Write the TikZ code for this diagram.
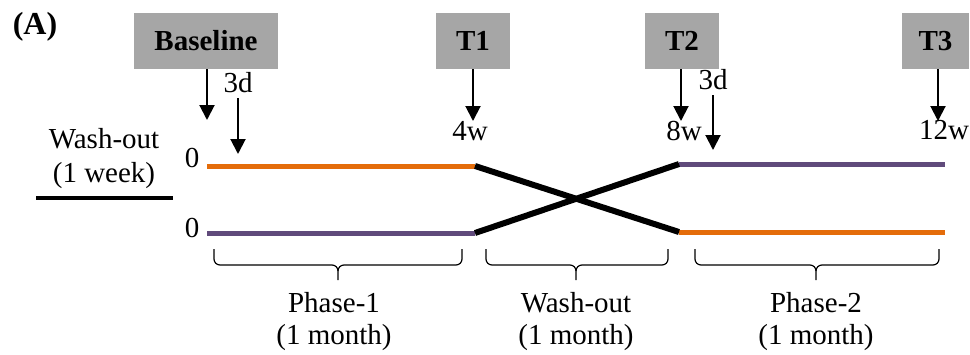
\documentclass[tikz,border=0pt]{standalone}
\usepackage{fontspec}
\setmainfont{Liberation Serif}
\usetikzlibrary{arrows.meta}
\definecolor{orng}{HTML}{E46C0A}
\definecolor{purp}{HTML}{604A7B}
\definecolor{boxgray}{HTML}{A6A6A6}
\newcommand{\mybrace}[3]{%
  \draw[brc] (#1,249) -- (#1,259) to[out=-90,in=180] (#1+6,265) -- (#3-6,265)
    to[out=0,in=90] (#3,271) -- (#3,280);
  \draw[brc] (#3,271) to[out=90,in=180] (#3+6,265) -- (#2-6,265)
    to[out=0,in=-90] (#2,259) -- (#2,249);}
\begin{document}
\begin{tikzpicture}[x=1pt,y=-1pt,
  tp/.style={fill=boxgray, inner sep=0, font=\fontsize{29}{33}\selectfont\bfseries},
  lbl/.style={inner sep=0, font=\fontsize{29}{33}\selectfont},
  arr/.style={line width=2pt, -{Triangle[width=15pt,length=15pt]}},
  arm/.style={line width=5pt},
  crossline/.style={line width=6pt, black},
  brc/.style={line width=1.2pt}]
\useasboundingbox (0,0) rectangle (970,354);
% title
\node[inner sep=0, font=\fontsize{32}{36}\selectfont\bfseries] (title) at (35,27) {(A)};
% time point boxes
\node[tp, minimum width=144pt, minimum height=56pt] (base) at (206,41) {Baseline};
\node[tp, minimum width=74pt, minimum height=56pt] (t1) at (473,41) {T1};
\node[tp, minimum width=74pt, minimum height=56pt] (t2) at (682,41) {T2};
\node[tp, minimum width=67pt, minimum height=56pt] (t3) at (935.5,41) {T3};
% arrow ends
\coordinate (baseE) at (207,120);
\coordinate (t1E) at (473,121);
\coordinate (t2E) at (681,121);
\coordinate (t3E) at (938,121);
\coordinate (d1S) at (238,98);
\coordinate (d1E) at (238,154);
\coordinate (d2S) at (713,95);
\coordinate (d2E) at (713,150);
\draw[arr] (base.south -| baseE) -- (baseE);
\draw[arr] (t1.south -| t1E) -- (t1E);
\draw[arr] (t2.south -| t2E) -- (t2E);
\draw[arr] (t3.south -| t3E) -- (t3E);
\draw[arr] (d1S) -- (d1E);
\draw[arr] (d2S) -- (d2E);
% labels
\node[lbl] (l3d1) at (238,83) {3d};
\node[lbl] (l3d2) at (713,80) {3d};
\node[lbl] (l4w) at (470,131) {4w};
\node[lbl] (l8w) at (684,131) {8w};
\node[lbl] (l12w) at (944,130) {12w};
\node[lbl] (z1) at (192,158) {0};
\node[lbl] (z2) at (192,228) {0};
\node[lbl] (wo) at (104,139) {Wash-out};
\node[lbl] (wk) at (104,176) {(1 week)};
\coordinate (woL) at (36,198);
\coordinate (woR) at (173,198);
\draw[line width=4pt] (woL) -- (woR);
% arms
\coordinate (a1) at (207,166);
\coordinate (a2) at (475,166);
\coordinate (b1) at (207,233);
\coordinate (b2) at (475,233);
\coordinate (c1) at (679,164);
\coordinate (c2) at (945,164);
\coordinate (e1) at (679,232);
\coordinate (e2) at (945,232);
\draw[arm, orng] (a1) -- (a2);
\draw[arm, purp] (b1) -- (b2);
\draw[arm, purp] (c1) -- (c2);
\draw[arm, orng] (e1) -- (e2);
\draw[crossline] (a2) -- (e1);
\draw[crossline] (b2) -- (c1);
% braces
\mybrace{214}{462}{338}
\mybrace{486}{668}{576}
\mybrace{695}{939}{816}
\node[lbl] (p1) at (334,303) {Phase-1};
\node[lbl] (p1m) at (334,338) {(1 month)};
\node[lbl] (p2) at (576,303) {Wash-out};
\node[lbl] (p2m) at (576,338) {(1 month)};
\node[lbl] (p3) at (816,303) {Phase-2};
\node[lbl] (p3m) at (816,338) {(1 month)};
\end{tikzpicture}
\end{document}
